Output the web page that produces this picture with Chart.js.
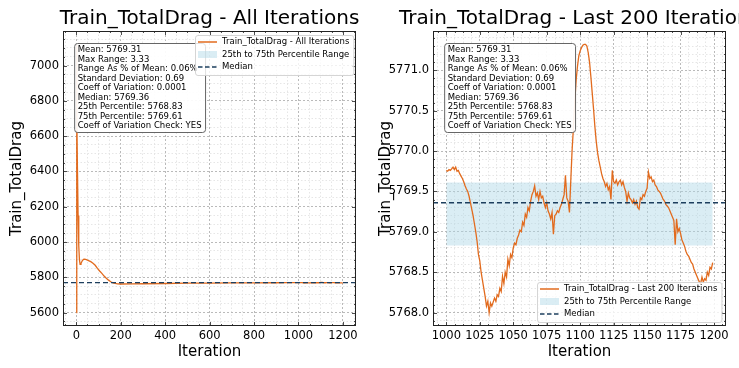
<!DOCTYPE html>
<html><head><meta charset="utf-8">
<script src="https://cdn.jsdelivr.net/npm/chart.js@4/dist/chart.umd.min.js"></script>
<style>
html,body{margin:0;padding:0;background:#fff;width:739px;height:368px;overflow:hidden}
#c1{position:absolute;left:0;top:0}
#c2{position:absolute;left:369px;top:0}
</style></head><body>
<canvas id="c1" width="369" height="368"></canvas>
<canvas id="c2" width="370" height="368"></canvas>
<script>
// ---------- data ----------
const metricName = 'Train_TotalDrag';
// early / sampled part of the full run (iteration, value)
const earlyIter = [0, 1, 3, 5, 8, 11, 14, 17, 21, 26, 32, 38, 45, 55, 65, 75, 85, 95, 105, 115, 125, 135, 145, 155, 165, 175, 185, 200, 250, 300, 400, 500, 600, 700, 800, 900, 950];
const earlyDrag = [5600, 7120, 6750, 6420, 6150, 5980, 5900, 5874, 5878, 5892, 5902, 5903, 5900, 5895, 5889, 5880, 5868, 5851, 5836, 5822, 5807, 5795, 5784, 5775, 5769, 5765, 5763, 5762, 5762.5, 5763.5, 5765, 5766.5, 5767.5, 5768.3, 5768.8, 5769.2, 5769.5];
// last 200 iterations (1000 .. 1199)
const last200Start = 1000;
const last200Drag = [
 5769.76,5769.75,5769.77,5769.76,5769.78,5769.80,5769.77,5769.80,5769.75,5769.76,
 5769.72,5769.69,5769.66,5769.62,5769.57,5769.53,5769.50,5769.44,5769.36,5769.28,
 5769.20,5769.10,5769.00,5768.88,5768.72,5768.64,5768.50,5768.40,5768.30,5768.20,
 5768.08,5768.14,5768.00,5768.12,5768.08,5768.13,5768.18,5768.14,5768.22,5768.20,
 5768.30,5768.26,5768.45,5768.36,5768.50,5768.44,5768.66,5768.58,5768.72,5768.68,
 5768.80,5768.86,5768.84,5768.92,5768.96,5769.02,5769.00,5769.12,5769.08,5769.22,
 5769.18,5769.30,5769.26,5769.38,5769.46,5769.50,5769.57,5769.44,5769.48,5769.40,
 5769.50,5769.42,5769.44,5769.36,5769.30,5769.36,5769.26,5769.22,5769.16,5769.24,
 5768.97,5769.20,5769.22,5769.26,5769.24,5769.30,5769.34,5769.40,5769.46,5769.70,
 5769.42,5769.38,5769.24,5769.64,5770.02,5770.30,5770.62,5770.88,5771.05,5771.18,
 5771.24,5771.28,5771.31,5771.32,5771.32,5771.30,5771.22,5771.10,5770.92,5770.72,
 5770.52,5770.30,5770.12,5769.98,5769.88,5769.80,5769.72,5769.66,5769.62,5769.56,
 5769.60,5769.52,5769.56,5769.40,5769.76,5769.62,5769.60,5769.64,5769.58,5769.62,
 5769.64,5769.58,5769.62,5769.55,5769.50,5769.38,5769.48,5769.42,5769.40,5769.36,
 5769.40,5769.34,5769.38,5769.30,5769.28,5769.42,5769.40,5769.46,5769.44,5769.50,
 5769.54,5769.74,5769.66,5769.68,5769.62,5769.64,5769.58,5769.56,5769.52,5769.50,
 5769.48,5769.44,5769.40,5769.38,5769.34,5769.32,5769.30,5769.26,5769.22,5769.18,
 5769.14,5768.84,5769.16,5769.00,5769.04,5768.98,5768.90,5768.86,5768.82,5768.76,
 5768.72,5768.70,5768.66,5768.62,5768.60,5768.54,5768.50,5768.46,5768.42,5768.38,
 5768.36,5768.44,5768.38,5768.42,5768.40,5768.50,5768.46,5768.56,5768.54,5768.62
];
const p25Value = 5768.83;
const p75Value = 5769.61;
const medianValue = 5769.36;
const statsLines = [
 'Mean: 5769.31', 'Max Range: 3.33', 'Range As % of Mean: 0.06%', 'Standard Deviation: 0.69',
 'Coeff of Variation: 0.0001', 'Median: 5769.36', '25th Percentile: 5768.83', '75th Percentile: 5769.61',
 'Coeff of Variation Check: YES'
];
const titles = ['Train_TotalDrag - All Iterations', 'Train_TotalDrag - Last 200 Iterations'];
const lineLabels = ['Train_TotalDrag - All Iterations', 'Train_TotalDrag - Last 200 Iterations'];
const bandLabel = '25th to 75th Percentile Range';
const medianLabel = 'Median';
const xAxisTitle = 'Iteration';
// tick labels
const leftXTicks = [0, 200, 400, 600, 800, 1000, 1200];
const leftXTickLabels = ['0', '200', '400', '600', '800', '1000', '1200'];
const leftYTicks = [5600, 5800, 6000, 6200, 6400, 6600, 6800, 7000];
const leftYTickLabels = ['5600', '5800', '6000', '6200', '6400', '6600', '6800', '7000'];
const rightXTicks = [1000, 1025, 1050, 1075, 1100, 1125, 1150, 1175, 1200];
const rightXTickLabels = ['1000', '1025', '1050', '1075', '1100', '1125', '1150', '1175', '1200'];
const rightYTicks = [5768.0, 5768.5, 5769.0, 5769.5, 5770.0, 5770.5, 5771.0];
const rightYTickLabels = ['5768.0', '5768.5', '5769.0', '5769.5', '5770.0', '5770.5', '5771.0'];

// ---------- styling ----------
const FONT = '"DejaVu Sans", "Liberation Sans", sans-serif';
const ORANGE = '#e26b1e';
const NAVY = '#1d3f5e';
const BAND = 'rgba(173,216,230,0.45)';

const last200Points = last200Drag.map((v, i) => ({x: last200Start + i, y: v}));
const allPoints = earlyIter.map((it, i) => ({x: it, y: earlyDrag[i]})).concat(last200Points);

function padRange(vals) {
  const mn = Math.min(...vals), mx = Math.max(...vals), r = mx - mn;
  return [mn - 0.05 * r, mx + 0.05 * r];
}
function isIn(v, arr) { return arr.some(m => Math.abs(v - m) < 1e-6); }
function labelFor(v, arr, labels) {
  for (let i = 0; i < arr.length; i++) if (Math.abs(v - arr[i]) < 1e-6) return labels[i];
  return '';
}

const decoCfg = {};
const decoPlugin = {
  id: 'deco',
  afterDatasetsDraw(chart) {
    const cfg = decoCfg[chart.canvas.id];
    if (!cfg) return;
    const ctx = chart.ctx, a = chart.chartArea;
    const xs = chart.scales.x, ys = chart.scales.y;
    ctx.save();
    // inward ticks on all sides
    ctx.strokeStyle = '#222';
    ctx.lineWidth = 0.8;
    ctx.beginPath();
    xs.ticks.forEach(t => {
      const px = Math.round(xs.getPixelForValue(t.value)) + 0.5;
      if (px < a.left || px > a.right) return;
      const len = isIn(t.value, cfg.xMajor) ? 4 : 2;
      ctx.moveTo(px, a.bottom); ctx.lineTo(px, a.bottom - len);
      ctx.moveTo(px, a.top); ctx.lineTo(px, a.top + len);
    });
    ys.ticks.forEach(t => {
      const py = Math.round(ys.getPixelForValue(t.value)) + 0.5;
      if (py < a.top || py > a.bottom) return;
      const len = isIn(t.value, cfg.yMajor) ? 4 : 2;
      ctx.moveTo(a.left, py); ctx.lineTo(a.left + len, py);
      ctx.moveTo(a.right, py); ctx.lineTo(a.right - len, py);
    });
    ctx.stroke();
    // frame
    ctx.lineWidth = 1;
    ctx.strokeStyle = '#222';
    ctx.strokeRect(Math.round(a.left) + 0.5, Math.round(a.top) + 0.5,
                   Math.round(a.right - a.left) - 1, Math.round(a.bottom - a.top) - 1);
    // title
    ctx.fillStyle = '#000';
    ctx.font = '20px ' + FONT;
    ctx.textAlign = 'center';
    ctx.textBaseline = 'alphabetic';
    ctx.fillText(cfg.title, (a.left + a.right) / 2, 24);

    // stats box
    ctx.font = '8.5px ' + FONT;
    ctx.textAlign = 'left';
    ctx.textBaseline = 'middle';
    const tx = a.left + 0.05 * (a.right - a.left);
    const ty = a.top + 19;
    const lh = 9.5;
    const tw = Math.max(...statsLines.map(s => ctx.measureText(s).width));
    const bx = tx - 3.5, by = a.top + 12, bw = tw + 7, bh = 89;
    ctx.beginPath();
    ctx.roundRect(bx + 0.5, by + 0.5, bw, bh, 3);
    ctx.fillStyle = 'rgba(255,255,255,0.92)';
    ctx.fill();
    ctx.strokeStyle = '#555';
    ctx.lineWidth = 0.9;
    ctx.stroke();
    ctx.fillStyle = '#000';
    statsLines.forEach((s, i) => ctx.fillText(s, tx, ty + i * lh));

    // legend
    const ds = chart.data.datasets;
    const lineDs = ds[1], bandDs = ds[2], medDs = ds[0];
    const labels = [lineDs.label, bandDs.label, medDs.label];
    const ltw = Math.max(...labels.map(s => ctx.measureText(s).width));
    const lw = 27 + ltw + 4, lhgt = 40;
    let lx, ly;
    if (cfg.legendLoc === 'upper right') { lx = a.right - 3 - lw; ly = a.top + 4; }
    else { lx = a.right - 5 - lw; ly = a.bottom - 4 - lhgt; }
    lx = Math.round(lx); ly = Math.round(ly);
    ctx.beginPath();
    ctx.roundRect(lx + 0.5, ly + 0.5, lw, lhgt, 2.5);
    ctx.fillStyle = 'rgba(255,255,255,0.8)';
    ctx.fill();
    ctx.strokeStyle = '#d0d0d0';
    ctx.lineWidth = 0.9;
    ctx.stroke();
    const rows = [ly + 7, ly + 19.5, ly + 32];
    // line sample
    ctx.strokeStyle = lineDs.borderColor;
    ctx.lineWidth = 1.5;
    ctx.beginPath(); ctx.moveTo(lx + 3, rows[0]); ctx.lineTo(lx + 22, rows[0]); ctx.stroke();
    // band patch
    ctx.fillStyle = bandDs.backgroundColor;
    ctx.fillRect(lx + 3, rows[1] - 3.5, 19, 7);
    // median sample
    ctx.strokeStyle = medDs.borderColor;
    ctx.setLineDash([4.5, 2.5]);
    ctx.beginPath(); ctx.moveTo(lx + 3, rows[2]); ctx.lineTo(lx + 22, rows[2]); ctx.stroke();
    ctx.setLineDash([]);
    ctx.fillStyle = '#000';
    labels.forEach((s, i) => ctx.fillText(s, lx + 27, rows[i]));
    ctx.restore();
  }
};

function makeChart(id, pts, bandStart, bandEnd, title, lineLabel, xMaj, xMajLab, xMinor, yMaj, yMajLab, yMinor, yAxisWidth, legendLoc) {
  const xr = padRange(pts.map(p => p.x));
  const yr = padRange(pts.map(p => p.y));
  decoCfg[id] = {title: title, xMajor: xMaj, yMajor: yMaj, legendLoc: legendLoc};
  const gridColor = (maj) => (c) => (c.tick && isIn(c.tick.value, maj)) ? '#b3b3b3' : '#e3e3e3';
  const gridDash = (maj) => (c) => (c.tick && isIn(c.tick.value, maj)) ? [2, 2] : [1.5, 2];
  return new Chart(document.getElementById(id), {
    type: 'line',
    data: {
      datasets: [
        {label: medianLabel, data: [{x: xr[0], y: medianValue}, {x: xr[1], y: medianValue}],
         borderColor: NAVY, borderWidth: 1.3, borderDash: [5, 3], pointRadius: 0, fill: false, order: 0},
        {label: lineLabel, data: pts, borderColor: ORANGE, borderWidth: 1.3, pointRadius: 0,
         fill: false, tension: 0, order: 1},
        {label: bandLabel, data: [{x: bandStart, y: p75Value}, {x: bandEnd, y: p75Value}],
         borderWidth: 0, borderColor: 'rgba(0,0,0,0)', backgroundColor: BAND, pointRadius: 0,
         fill: {target: {value: p25Value}}, order: 2}
      ]
    },
    options: {
      responsive: false, animation: false, devicePixelRatio: 1,
      layout: {padding: {top: 31, right: 13, left: 0, bottom: 0}},
      plugins: {legend: {display: false}, tooltip: {enabled: false}, title: {display: false}},
      scales: {
        x: {
          type: 'linear', min: xr[0], max: xr[1],
          afterFit: (s) => { s.height = 42; },
          ticks: {stepSize: xMinor, autoSkip: false, maxRotation: 0, includeBounds: false, padding: 3,
                  color: '#000', font: {family: FONT, size: 11.5},
                  callback: (v) => labelFor(v, xMaj, xMajLab)},
          grid: {drawTicks: false, color: gridColor(xMaj), lineWidth: 0.9},
          border: {display: false, dash: gridDash(xMaj)},
          title: {display: true, text: xAxisTitle, color: '#000', font: {family: FONT, size: 15},
                  padding: {top: 0, bottom: 7}}
        },
        y: {
          type: 'linear', min: yr[0], max: yr[1],
          afterFit: (s) => { s.width = yAxisWidth; },
          ticks: {stepSize: yMinor, autoSkip: false, includeBounds: false, padding: 4,
                  color: '#000', font: {family: FONT, size: 11.5},
                  callback: (v) => labelFor(v, yMaj, yMajLab)},
          grid: {drawTicks: false, color: gridColor(yMaj), lineWidth: 0.9},
          border: {display: false, dash: gridDash(yMaj)},
          title: {display: true, text: metricName, color: '#000', font: {family: FONT, size: 15},
                  padding: {top: 8, bottom: 0}}
        }
      }
    },
    plugins: [decoPlugin]
  });
}

makeChart('c1', allPoints, 0, last200Start + last200Drag.length - 1, titles[0], lineLabels[0],
          leftXTicks, leftXTickLabels, 50, leftYTicks, leftYTickLabels, 50, 63, 'upper right');
makeChart('c2', last200Points, last200Start, last200Start + last200Drag.length - 1, titles[1], lineLabels[1],
          rightXTicks, rightXTickLabels, 6.25, rightYTicks, rightYTickLabels, 0.1, 64, 'lower right');
</script>
</body></html>
